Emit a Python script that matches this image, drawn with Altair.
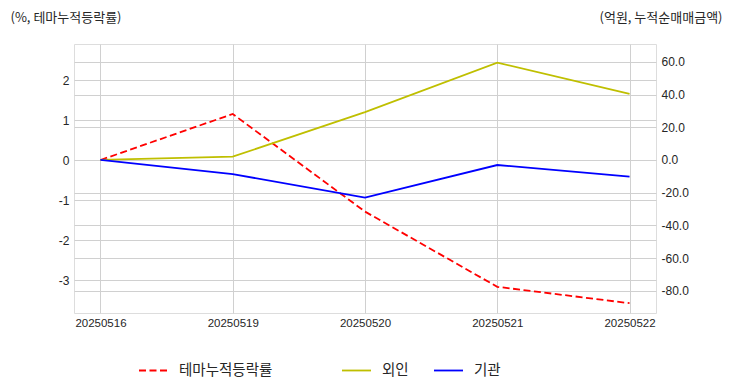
import altair as alt
import pandas as pd

dates = ["20250516", "20250519", "20250520", "20250521", "20250522"]
theme = [0.0, 1.15, -1.29, -3.17, -3.58]
foreign = [0.0, 2.0, 29.2, 59.5, 40.4]
inst = [0.0, -8.7, -23.0, -3.1, -10.2]

left_name = "테마누적등락률"
right_names = ["외인", "기관"]

df_left = pd.DataFrame({"date": dates, "value": theme, "series": left_name})
df_right = pd.concat([
    pd.DataFrame({"date": dates, "amount": foreign, "series": right_names[0]}),
    pd.DataFrame({"date": dates, "amount": inst, "series": right_names[1]}),
])

FONT = "Liberation Sans, Noto Sans CJK KR, sans-serif"
KFONT = "Noto Sans CJK KR, Liberation Sans, sans-serif"
TXT = "#262626"
GRID = "#d0d0d0"
DASH = [7, 3.5]
HYPHEN = "replace(datum.label, '\u2212', '-')"

xenc = alt.X("date:N", sort=dates,
             scale=alt.Scale(type="point", padding=0.2),
             axis=alt.Axis(title=None, labelAngle=0, ticks=False, domain=False,
                           grid=True, gridColor=GRID, labelPadding=4,
                           labelFontSize=11.5, labelColor=TXT, labelFont=FONT))

left = alt.Chart(df_left).mark_line(strokeWidth=1.8, strokeDash=DASH).encode(
    x=xenc,
    y=alt.Y("value:Q",
            scale=alt.Scale(domain=[-3.825, 2.9], nice=False, zero=False),
            axis=alt.Axis(orient="left", values=[-3, -2, -1, 0, 1, 2], format="d",
                          labelExpr=HYPHEN,
                          ticks=False, domain=False, grid=True, gridColor=GRID,
                          labelPadding=5, labelFontSize=12, labelColor=TXT, labelFont=FONT,
                          title="(%, 테마누적등락률)", titleAngle=0, titleAlign="left",
                          titleBaseline="middle", titleX=-64, titleY=-27,
                          titleFontSize=13, titleFontWeight="normal",
                          titleColor=TXT, titleFont=KFONT)),
    color=alt.Color("series:N",
                    scale=alt.Scale(domain=[left_name], range=["#ff0000"]),
                    legend=alt.Legend(title=None, orient="none", legendX=64, legendY=311,
                                      direction="horizontal", symbolType="stroke",
                                      symbolSize=841, symbolStrokeWidth=1.8,
                                      symbolDash=DASH, labelOffset=10,
                                      labelFontSize=14.5, labelColor=TXT, labelFont=KFONT,
                                      padding=0)),
)

right = alt.Chart(df_right).mark_line(strokeWidth=1.8).encode(
    x=xenc,
    y=alt.Y("amount:Q",
            scale=alt.Scale(domain=[-93.6, 70.9], nice=False, zero=False),
            axis=alt.Axis(orient="right", values=[-80, -60, -40, -20, 0, 20, 40, 60],
                          format=".1f", labelExpr=HYPHEN,
                          ticks=False, domain=False, grid=True,
                          gridColor=GRID, labelPadding=5, labelFontSize=12,
                          labelColor=TXT, labelFont=FONT,
                          title="(억원, 누적순매매금액)", titleAngle=0, titleAlign="right",
                          titleBaseline="middle", titleX=66, titleY=-27,
                          titleFontSize=13, titleFontWeight="normal",
                          titleColor=TXT, titleFont=KFONT)),
    color=alt.Color("series:N",
                    scale=alt.Scale(domain=right_names, range=["#bfbf00", "#0000ff"]),
                    legend=alt.Legend(title=None, orient="none", legendX=267, legendY=311,
                                      direction="horizontal", symbolType="stroke",
                                      symbolSize=841, symbolStrokeWidth=1.8,
                                      labelOffset=10, columnPadding=21,
                                      labelFontSize=14.5, labelColor=TXT, labelFont=KFONT,
                                      padding=0)),
)

chart = alt.layer(left, right).resolve_scale(
    y="independent", color="independent"
).properties(
    width=582, height=269,
    autosize=alt.AutoSizeParams(type="none"),
    padding={"left": 66, "top": 36, "right": 68, "bottom": 71},
).configure_view(stroke="#cccccc", strokeWidth=1.3).configure(background="white")

chart.save("out.html", embed_options={"renderer": "svg", "actions": False})
